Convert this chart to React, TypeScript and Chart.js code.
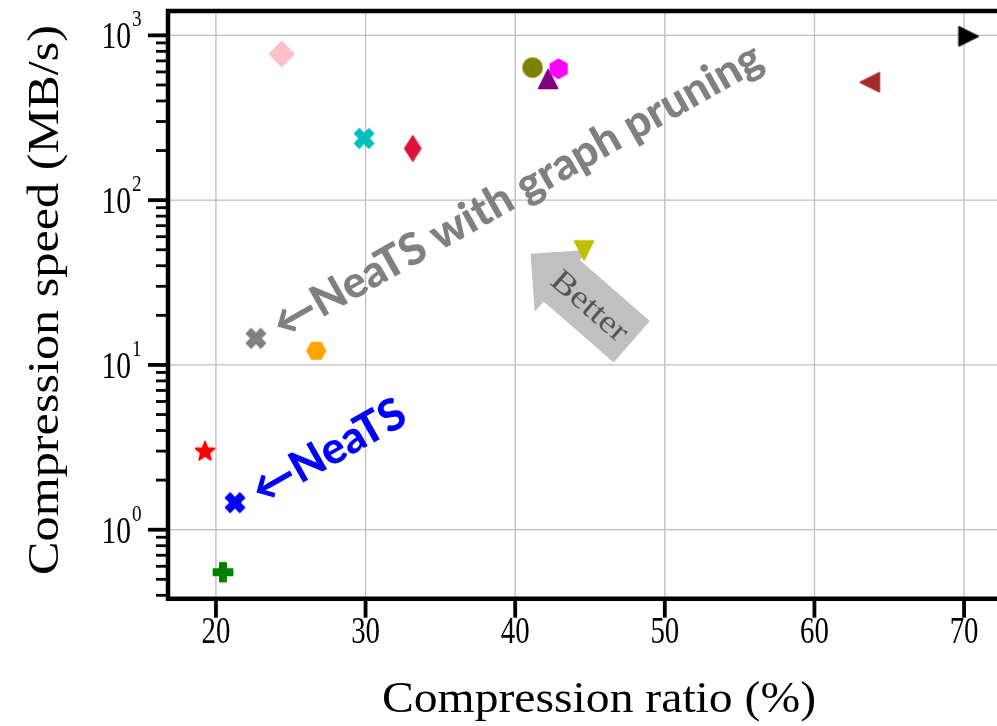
import React, { useEffect, useRef } from 'react';
import { Chart, registerables } from 'chart.js';

Chart.register(...registerables);

// ---- data ----
const ratios = [24.4, 29.9, 33.15, 41.16, 42.2, 42.9, 63.7, 70.3, 44.6, 22.67, 26.7, 19.27, 21.27, 20.47];
const speeds = [771, 237, 206, 638, 543, 627, 519, 986, 49.6, 14.5, 12.2, 2.98, 1.46, 0.552];
const colors = ['#ffc0cb', '#00bfbf', '#dc143c', '#808000', '#800080', '#ff00ff', '#a52a2a', '#000000', '#bfbf00', '#808080', '#ffa500', '#ff0000', '#0000ff', '#008000'];
const markers = ['D', 'X', 'd', 'o', '^', 'h', '<', '>', 'v', 'X', 'H', '*', 'X', 'P'];

const xTicks = [20, 30, 40, 50, 60, 70];
const yDecades = [0, 1, 2, 3];
const xTitle = 'Compression ratio (%)';
const yTitle = 'Compression speed (MB/s)';
const grayNote = '\u2190NeaTS with graph pruning';
const blueNote = '\u2190NeaTS';
const betterNote = 'Better';

// annotation anchors in data coordinates
const grayAnchor = { x: 24.0, y: 16.85 };
const blueAnchor = { x: 22.6, y: 1.656 };
const betterTip = { x: 41.03, y: 47.3 };

const X_MIN = 16.796;
const X_MAX = 74.34;
const Y_MIN = 0.3814;
const Y_MAX = 1405.5;

const SERIF = "'Liberation Serif', 'DejaVu Serif', serif";
const SANS = "Lato, 'DejaVu Sans', sans-serif";

function makeMarker(shape: string, color: string): HTMLCanvasElement {
  const c = document.createElement('canvas');
  c.width = 36;
  c.height = 36;
  const ctx = c.getContext('2d')!;
  ctx.translate(18, 18);
  ctx.fillStyle = color;
  ctx.strokeStyle = color;
  ctx.lineWidth = 1.5;
  ctx.lineJoin = 'round';
  ctx.beginPath();
  const poly = (pts: number[][]) => {
    pts.forEach((p, i) => (i === 0 ? ctx.moveTo(p[0], p[1]) : ctx.lineTo(p[0], p[1])));
    ctx.closePath();
  };
  const R = 9.6;
  switch (shape) {
    case 'o':
      ctx.arc(0, 0, R, 0, Math.PI * 2);
      break;
    case 'D': {
      const a = 12.4;
      poly([[0, -a], [a, 0], [0, a], [-a, 0]]);
      break;
    }
    case 'd': {
      const a = 12.6;
      const b = 8.0;
      poly([[0, -a], [b, 0], [0, a], [-b, 0]]);
      break;
    }
    case 'X': {
      const s = 9.6 / 2;
      const base = [[-1, -2], [0, -1], [1, -2], [2, -1], [1, 0], [2, 1], [1, 2], [0, 1], [-1, 2], [-2, 1], [-1, 0], [-2, -1]];
      poly(base.map((p) => [p[0] * s, p[1] * s]));
      break;
    }
    case 'P': {
      const s = 9.6 / 3;
      const base = [[-1, -3], [-1, -1], [-3, -1], [-3, 1], [-1, 1], [-1, 3], [1, 3], [1, 1], [3, 1], [3, -1], [1, -1], [1, -3]];
      poly(base.map((p) => [p[0] * s, p[1] * s]));
      break;
    }
    case '^':
      poly([[0, -R], [R, R], [-R, R]]);
      break;
    case 'v':
      poly([[0, R], [R, -R], [-R, -R]]);
      break;
    case '<':
      poly([[-R, 0], [R, -R], [R, R]]);
      break;
    case '>':
      poly([[R, 0], [-R, -R], [-R, R]]);
      break;
    case 'h': {
      const pts = [];
      for (let k = 0; k < 6; k++) {
        const a = -Math.PI / 2 + (k * Math.PI) / 3;
        pts.push([R * Math.cos(a), R * Math.sin(a)]);
      }
      poly(pts);
      break;
    }
    case 'H': {
      const pts = [];
      const r = 9.4;
      for (let k = 0; k < 6; k++) {
        const a = (k * Math.PI) / 3;
        pts.push([r * Math.cos(a), r * Math.sin(a)]);
      }
      poly(pts);
      break;
    }
    case '*': {
      const pts = [];
      const ro = 10.2;
      const ri = ro * 0.45;
      for (let k = 0; k < 10; k++) {
        const a = -Math.PI / 2 + (k * Math.PI) / 5;
        const r = k % 2 === 0 ? ro : ri;
        pts.push([r * Math.cos(a), r * Math.sin(a)]);
      }
      poly(pts);
      break;
    }
    default:
      ctx.arc(0, 0, R, 0, Math.PI * 2);
  }
  ctx.fill();
  ctx.stroke();
  return c;
}

function drawText(
  ctx: CanvasRenderingContext2D,
  text: string,
  x: number,
  y: number,
  o: { size: number; family: string; weight?: string; align?: CanvasTextAlign; baseline?: CanvasTextBaseline; color?: string; rot?: number; width?: number; sx?: number }
) {
  ctx.save();
  ctx.font = `${o.weight || 'normal'} ${o.size}px ${o.family}`;
  const w = ctx.measureText(text).width;
  const sx = o.width ? o.width / w : o.sx ?? 1;
  ctx.translate(x, y);
  ctx.rotate(o.rot || 0);
  ctx.scale(sx, 1);
  ctx.textAlign = o.align || 'center';
  ctx.textBaseline = o.baseline || 'alphabetic';
  ctx.fillStyle = o.color || '#000';
  ctx.fillText(text, 0, 0);
  ctx.restore();
}

const decoPlugin = {
  id: 'deco',
  beforeDatasetsDraw(chart: any) {
    const ctx: CanvasRenderingContext2D = chart.ctx;
    const xs = chart.scales.x;
    const ys = chart.scales.y;
    const a = chart.chartArea;
    ctx.save();
    ctx.strokeStyle = '#bdbdbd';
    ctx.lineWidth = 1.3;
    xTicks.forEach((t) => {
      const px = xs.getPixelForValue(t);
      ctx.beginPath();
      ctx.moveTo(px, a.top);
      ctx.lineTo(px, a.bottom);
      ctx.stroke();
    });
    yDecades.forEach((d) => {
      const py = ys.getPixelForValue(Math.pow(10, d));
      ctx.beginPath();
      ctx.moveTo(a.left, py);
      ctx.lineTo(a.right, py);
      ctx.stroke();
    });
    ctx.restore();

    // "Better" arrow (left-arrow box rotated)
    const tx = xs.getPixelForValue(betterTip.x);
    const ty = ys.getPixelForValue(betterTip.y);
    const H = 55;
    const L = 134;
    const hh = 0.75 * H;
    const rot = (41 * Math.PI) / 180;
    ctx.save();
    ctx.translate(tx, ty);
    ctx.rotate(rot);
    ctx.fillStyle = '#c0c0c0';
    ctx.beginPath();
    ctx.moveTo(0, 0);
    ctx.lineTo(hh, -hh);
    ctx.lineTo(hh, -H / 2);
    ctx.lineTo(L, -H / 2);
    ctx.lineTo(L, H / 2);
    ctx.lineTo(hh, H / 2);
    ctx.lineTo(hh, hh);
    ctx.closePath();
    ctx.fill();
    ctx.restore();
    const cu = 79;
    const cv = 2;
    const cx = tx + cu * Math.cos(rot) - cv * Math.sin(rot);
    const cy = ty + cu * Math.sin(rot) + cv * Math.cos(rot);
    drawText(ctx, betterNote, cx, cy, { size: 32, family: SERIF, color: '#555555', rot, baseline: 'middle', width: 92 });
  },
  afterDatasetsDraw(chart: any) {
    const ctx: CanvasRenderingContext2D = chart.ctx;
    const xs = chart.scales.x;
    const ys = chart.scales.y;
    ctx.save();
    ctx.font = `900 40px ${SANS}`;
    const w = ctx.measureText(grayNote).width;
    ctx.restore();
    const fs = (40 * 555) / w;
    const rot = (-29.5 * Math.PI) / 180;
    drawText(ctx, grayNote, xs.getPixelForValue(grayAnchor.x), ys.getPixelForValue(grayAnchor.y), {
      size: fs, family: SANS, weight: '900', color: '#808080', rot, align: 'left', baseline: 'middle',
    });
    drawText(ctx, blueNote, xs.getPixelForValue(blueAnchor.x), ys.getPixelForValue(blueAnchor.y), {
      size: fs, family: SANS, weight: '900', color: '#0000ff', rot, align: 'left', baseline: 'middle',
    });
  },
  afterDraw(chart: any) {
    const ctx: CanvasRenderingContext2D = chart.ctx;
    const xs = chart.scales.x;
    const ys = chart.scales.y;
    const a = chart.chartArea;
    ctx.save();
    ctx.strokeStyle = '#000';
    ctx.lineCap = 'butt';
    // y ticks
    for (let d = -1; d <= 3; d++) {
      for (let m = 1; m <= 9; m++) {
        const v = m * Math.pow(10, d);
        if (v < Y_MIN || v > Y_MAX) continue;
        const py = ys.getPixelForValue(v);
        ctx.lineWidth = m === 1 ? 3.8 : 2.8;
        const len = m === 1 ? 20 : 12;
        ctx.beginPath();
        ctx.moveTo(a.left - len, py);
        ctx.lineTo(a.left, py);
        ctx.stroke();
      }
    }
    // x ticks
    ctx.lineWidth = 3.8;
    xTicks.forEach((t) => {
      const px = xs.getPixelForValue(t);
      ctx.beginPath();
      ctx.moveTo(px, a.bottom);
      ctx.lineTo(px, a.bottom + 19);
      ctx.stroke();
    });
    // spines
    ctx.lineWidth = 4.5;
    ctx.lineCap = 'square';
    ctx.beginPath();
    ctx.moveTo(a.left, a.bottom);
    ctx.lineTo(a.left, a.top);
    ctx.lineTo(a.right, a.top);
    ctx.lineTo(a.right, a.bottom);
    ctx.closePath();
    ctx.stroke();
    ctx.restore();

    // tick labels
    xTicks.forEach((t) => {
      drawText(ctx, String(t), xs.getPixelForValue(t), 643, { size: 37, family: SERIF, sx: 0.78 });
    });
    yDecades.forEach((d) => {
      const py = ys.getPixelForValue(Math.pow(10, d));
      drawText(ctx, '10', 131, py + 13, { size: 37, family: SERIF, sx: 0.8, align: 'right' });
      drawText(ctx, String(d), 132, py - 9, { size: 24, family: SERIF, sx: 0.8, align: 'left' });
    });

    // axis titles
    drawText(ctx, xTitle, 599, 712, { size: 44, family: SERIF, width: 434 });
    drawText(ctx, yTitle, 58, 300, { size: 44, family: SERIF, width: 550, rot: -Math.PI / 2 });
  },
};

export default function App() {
  const ref = useRef<HTMLCanvasElement | null>(null);
  useEffect(() => {
    const canvas = ref.current;
    if (!canvas) return;
    const datasets = ratios.map((r, i) => ({
      label: `m${i}`,
      data: [{ x: r, y: speeds[i] }],
      pointStyle: makeMarker(markers[i], colors[i]) as any,
      pointRadius: 10,
      backgroundColor: colors[i],
      borderColor: colors[i],
      order: ratios.length - i,
      clip: false as any,
    }));
    const chart = new Chart(canvas, {
      type: 'scatter',
      data: { datasets },
      options: {
        animation: false,
        responsive: false,
        devicePixelRatio: 1,
        layout: { padding: { top: 7.5, right: 10, left: 0, bottom: 0 } },
        plugins: { legend: { display: false }, tooltip: { enabled: false } },
        scales: {
          x: {
            type: 'linear',
            min: X_MIN,
            max: X_MAX,
            ticks: { display: false },
            grid: { display: false },
            border: { display: false },
            afterFit: (s: any) => {
              s.height = 127.3;
            },
          },
          y: {
            type: 'logarithmic',
            min: Y_MIN,
            max: Y_MAX,
            ticks: { display: false },
            grid: { display: false },
            border: { display: false },
            afterFit: (s: any) => {
              s.width = 168;
            },
          },
        },
      },
      plugins: [decoPlugin],
    });
    return () => chart.destroy();
  }, []);
  return (
    <div style={{ position: 'fixed', left: 0, top: 0, width: 997, height: 726, overflow: 'hidden', background: '#fff' }}>
      <canvas ref={ref} width={1040} height={726} style={{ display: 'block' }} />
    </div>
  );
}
